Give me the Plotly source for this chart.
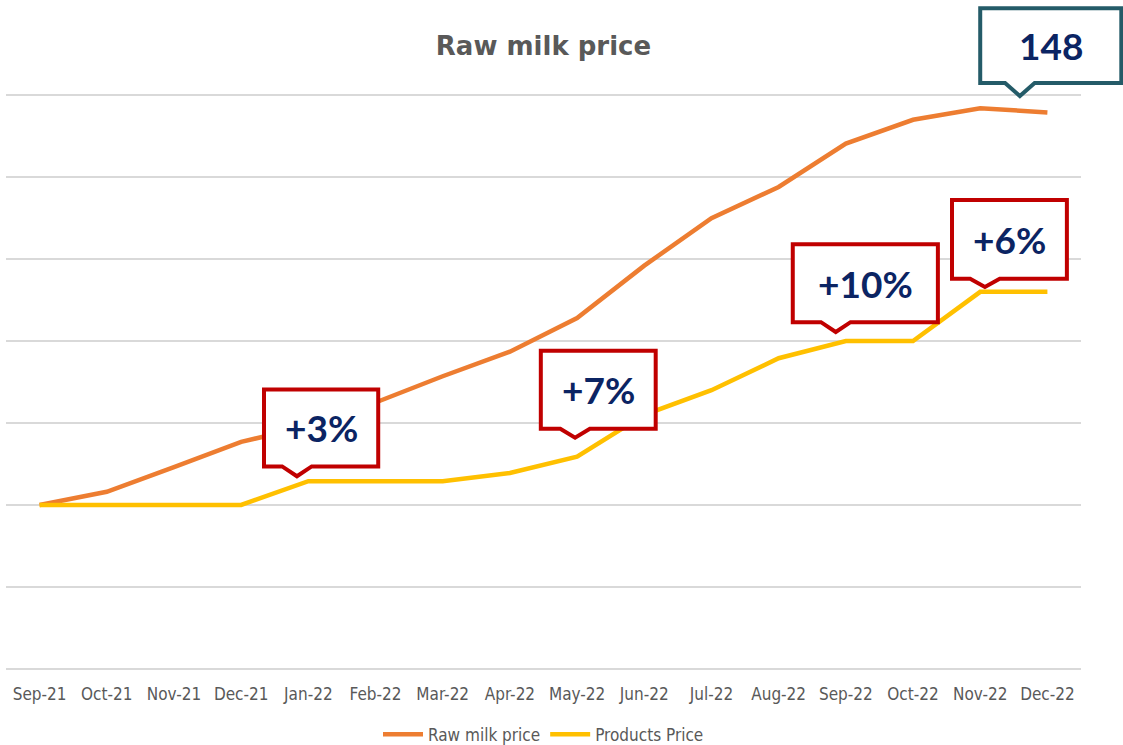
import plotly.graph_objects as go

months = ["Sep-21", "Oct-21", "Nov-21", "Dec-21", "Jan-22", "Feb-22", "Mar-22", "Apr-22",
          "May-22", "Jun-22", "Jul-22", "Aug-22", "Sep-22", "Oct-22", "Nov-22", "Dec-22"]
raw_milk = [100, 101.6, 104.6, 107.7, 109.6, 112.5, 115.7, 118.7,
            122.8, 129.2, 135.0, 138.8, 144.1, 147.0, 148.4, 147.9]
products = [100, 100, 100, 100, 102.9, 102.9, 102.9, 103.9,
            105.9, 111.0, 114.0, 117.9, 120.0, 120.0, 126.0, 126.0]

callout_texts = ["+3%", "+7%", "+10%", "+6%"]
# box left/right (category units), bottom/top (value units), pointer tip (x, y)
callout_boxes = [
    (3.34, 5.04, 104.7, 114.1, 3.83, 103.5),
    (7.46, 9.17, 109.3, 118.8, 7.97, 108.2),
    (11.21, 13.37, 122.3, 131.8, 11.85, 121.1),
    (13.58, 15.29, 127.6, 137.2, 14.07, 126.6),
]
last_label = "148"
last_box = (14.0, 16.1, 151.5, 160.6, 14.59, 149.9)

Y_MIN, Y_MAX = 79, 151
N = len(months)


def px_(x):
    return (x + 0.5) / N


def py_(y):
    return (y - Y_MIN) / (Y_MAX - Y_MIN)


def callout_path(x0, x1, y0, y1, tx, ty, half=0.22):
    pts = [(x0, y1), (x1, y1), (x1, y0), (tx + half, y0), (tx, ty), (tx - half, y0), (x0, y0)]
    return "M " + " L ".join(f"{px_(a):.5f},{py_(b):.5f}" for a, b in pts) + " Z"


fig = go.Figure()
fig.add_trace(go.Scatter(x=list(range(N)), y=raw_milk, mode="lines", name="Raw milk price",
                         line=dict(color="#ED7D31", width=4.5)))
fig.add_trace(go.Scatter(x=list(range(N)), y=products, mode="lines", name="Products Price",
                         line=dict(color="#FFC000", width=4.5)))

callout_font = dict(family="Lato, Open Sans, sans-serif", size=37, color="#0B2463")

for text, (x0, x1, y0, y1, tx, ty) in zip(callout_texts, callout_boxes):
    fig.add_shape(type="path", xref="paper", yref="paper", path=callout_path(x0, x1, y0, y1, tx, ty),
                  fillcolor="white", line=dict(color="#C00000", width=4))
    fig.add_annotation(x=px_((x0 + x1) / 2), y=py_((y0 + y1) / 2), xref="paper", yref="paper",
                       xanchor="center", yanchor="middle",
                       text=f"<b>{text}</b>", showarrow=False, font=callout_font)

x0, x1, y0, y1, tx, ty = last_box
fig.add_shape(type="path", xref="paper", yref="paper", path=callout_path(x0, x1, y0, y1, tx, ty),
              fillcolor="white", line=dict(color="#245B68", width=4))
fig.add_annotation(x=px_((x0 + x1) / 2), y=py_((y0 + y1) / 2), xref="paper", yref="paper",
                   xanchor="center", yanchor="middle",
                   text=f"<b>{last_label}</b>", showarrow=False, font=callout_font)

label_font = dict(family="DejaVu Sans Condensed, DejaVu Sans, sans-serif", size=17, color="#595959")

fig.update_xaxes(range=[-0.5, N - 0.5], tickvals=list(range(N)), ticktext=months,
                 showgrid=False, zeroline=False, showline=False, ticks="",
                 ticklabelstandoff=5, tickfont=label_font)
fig.update_yaxes(range=[Y_MIN, Y_MAX], tickvals=list(range(80, 151, 10)), showticklabels=False,
                 zeroline=False, showgrid=True, gridcolor="#D9D9D9", gridwidth=1.5)

fig.update_layout(
    width=1123, height=745,
    margin=dict(l=6, r=42, t=87, b=68, autoexpand=False),
    plot_bgcolor="white", paper_bgcolor="white",
    title=dict(text="<b>Raw milk price</b>", x=0.5, xref="paper", y=1 - 46 / 745, yanchor="middle",
               font=dict(family="DejaVu Sans, Verdana, sans-serif", size=26, color="#595959")),
    legend=dict(orientation="h", x=0.5, xanchor="center", y=-0.098, yanchor="middle",
                font=label_font, itemwidth=40),
    hovermode=False,
)

fig.write_html("out.html", config={"displayModeBar": False},
               post_script="document.body.style.margin='0px';")
